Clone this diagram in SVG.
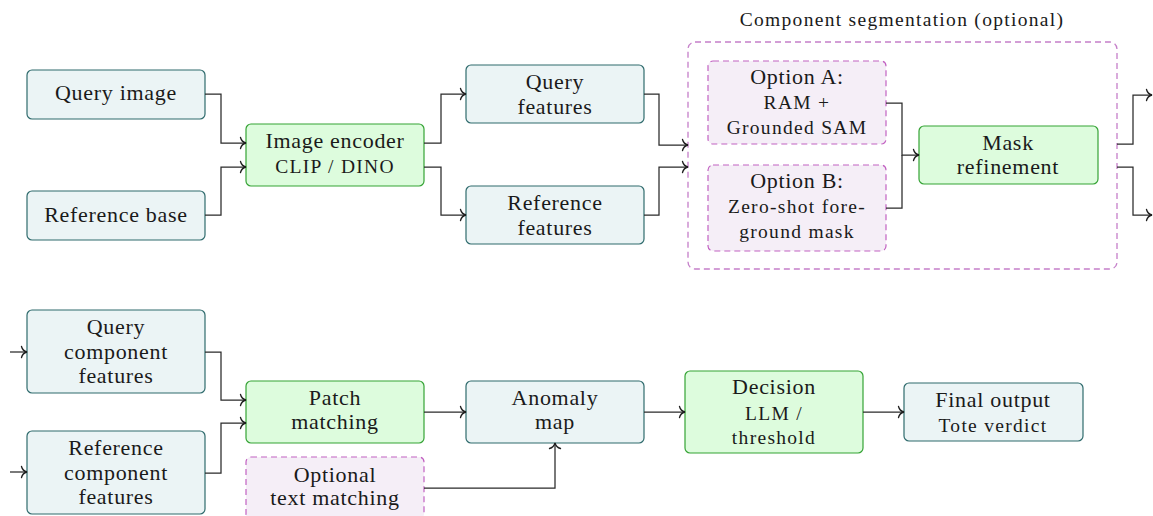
<svg xmlns="http://www.w3.org/2000/svg" width="1153" height="516" viewBox="0 0 1153 516">
  <defs>
    <marker id="to" markerUnits="userSpaceOnUse" markerWidth="14" markerHeight="14" viewBox="-7 -7 14 14" refX="0" refY="0" orient="auto" overflow="visible">
      <path d="M-5.5,-5.5 C-4.6,-2 -1.8,-0.45 0,0 C-1.8,0.45 -4.6,2 -5.5,5.5" fill="none" stroke="#1e1e1e" stroke-width="1.3" stroke-linecap="round"/>
    </marker>
    <style>
      .data { fill: #ebf4f5; stroke: #2f6b6d; stroke-width: 1.2; }
      .proc { fill: #ddfcdd; stroke: #35a335; stroke-width: 1.2; }
      .opt { fill: #f5eef7; stroke: #c262c2; stroke-width: 1.2; stroke-dasharray: 6 4; }
      .group { fill: none; stroke: #c57fc9; stroke-width: 1.3; stroke-dasharray: 6 4; }
      .t { font-family: "Liberation Serif", "DejaVu Serif", serif; font-size: 22px; fill: #1a1a1a; text-anchor: middle; letter-spacing: 0.7px; }
      .s { font-family: "Liberation Serif", "DejaVu Serif", serif; font-size: 19.5px; fill: #1a1a1a; text-anchor: middle; letter-spacing: 1.3px; }
      .wire { fill: none; stroke: #2a2a2a; stroke-width: 1.25; }
      .arr { marker-end: url(#to); }
    </style>
  </defs>

  <!-- segmentation stage -->
  <g id="segmentation">
    <rect class="group" x="688" y="42" width="429" height="227" rx="7"/>
    <text class="s" x="902" y="26">Component segmentation (optional)</text>
  </g>

  <g id="query-image">
    <rect class="data" x="27" y="70" width="178" height="49" rx="5"/>
    <text class="t" x="116" y="100">Query image</text>
  </g>
  <g id="reference-base">
    <rect class="data" x="27" y="191" width="178" height="49" rx="5"/>
    <text class="t" x="116" y="222">Reference base</text>
  </g>
  <g id="image-encoder">
    <rect class="proc" x="246" y="124" width="178" height="62" rx="5"/>
    <text class="t" x="335" y="148">Image encoder</text>
    <text class="s" x="335" y="173">CLIP / DINO</text>
  </g>
  <g id="query-features">
    <rect class="data" x="466" y="65" width="178" height="58" rx="5"/>
    <text class="t" x="555" y="89">Query</text>
    <text class="t" x="555" y="114">features</text>
  </g>
  <g id="reference-features">
    <rect class="data" x="466" y="186" width="178" height="58" rx="5"/>
    <text class="t" x="555" y="210">Reference</text>
    <text class="t" x="555" y="235">features</text>
  </g>
  <g id="option-a">
    <rect class="opt" x="708" y="61" width="178" height="83" rx="5"/>
    <text class="t" x="797" y="84">Option A:</text>
    <text class="s" x="797" y="109">RAM +</text>
    <text class="s" x="797" y="134">Grounded SAM</text>
  </g>
  <g id="option-b">
    <rect class="opt" x="708" y="165" width="178" height="86" rx="5"/>
    <text class="t" x="797" y="188">Option B:</text>
    <text class="s" x="797" y="213">Zero-shot fore-</text>
    <text class="s" x="797" y="238">ground mask</text>
  </g>
  <g id="mask-refinement">
    <rect class="proc" x="919" y="126" width="179" height="58" rx="5"/>
    <text class="t" x="1008" y="150">Mask</text>
    <text class="t" x="1008" y="174">refinement</text>
  </g>

  <g id="query-component-features">
    <rect class="data" x="27" y="310" width="178" height="83" rx="5"/>
    <text class="t" x="116" y="334">Query</text>
    <text class="t" x="116" y="359">component</text>
    <text class="t" x="116" y="383">features</text>
  </g>
  <g id="reference-component-features">
    <rect class="data" x="27" y="431" width="178" height="83" rx="5"/>
    <text class="t" x="116" y="455">Reference</text>
    <text class="t" x="116" y="480">component</text>
    <text class="t" x="116" y="504">features</text>
  </g>
  <g id="patch-matching">
    <rect class="proc" x="246" y="381" width="178" height="62" rx="5"/>
    <text class="t" x="335" y="405">Patch</text>
    <text class="t" x="335" y="429">matching</text>
  </g>
  <g id="text-matching">
    <rect class="opt" x="246" y="457" width="178" height="62" rx="5"/>
    <text class="t" x="335" y="482">Optional</text>
    <text class="t" x="335" y="505">text matching</text>
  </g>
  <g id="anomaly-map">
    <rect class="data" x="466" y="381" width="178" height="62" rx="5"/>
    <text class="t" x="555" y="405">Anomaly</text>
    <text class="t" x="555" y="429">map</text>
  </g>
  <g id="decision">
    <rect class="proc" x="685" y="371" width="178" height="82" rx="5"/>
    <text class="t" x="774" y="394">Decision</text>
    <text class="s" x="774" y="420">LLM /</text>
    <text class="s" x="774" y="444">threshold</text>
  </g>
  <g id="final-output">
    <rect class="data" x="904" y="383" width="179" height="58" rx="5"/>
    <text class="t" x="993" y="407">Final output</text>
    <text class="s" x="993" y="432">Tote verdict</text>
  </g>

  <!-- connectors -->
  <g id="connectors">
    <path class="wire arr" d="M205,94 H221 V143 H246"/>
    <path class="wire arr" d="M205,215 H221 V167 H246"/>
    <path class="wire arr" d="M424,143 H441 V94 H466"/>
    <path class="wire arr" d="M424,167 H441 V215 H466"/>
    <path class="wire arr" d="M644,94 H659 V145 H688"/>
    <path class="wire arr" d="M644,215 H659 V167 H688"/>
    <path class="wire arr" d="M886,103 H902 V155 H919"/>
    <path class="wire" d="M886,208 H902 V155"/>
    <path class="wire arr" d="M1117,144 H1133 V95 H1152"/>
    <path class="wire arr" d="M1117,167 H1133 V215 H1152"/>
    <path class="wire arr" d="M10,352 H27"/>
    <path class="wire arr" d="M10,472 H27"/>
    <path class="wire arr" d="M205,352 H221 V400 H246"/>
    <path class="wire arr" d="M205,473 H221 V423 H246"/>
    <path class="wire arr" d="M424,412 H466"/>
    <path class="wire arr" d="M424,488 H555 V443"/>
    <path class="wire arr" d="M644,412 H685"/>
    <path class="wire arr" d="M863,412 H904"/>
  </g>
</svg>
